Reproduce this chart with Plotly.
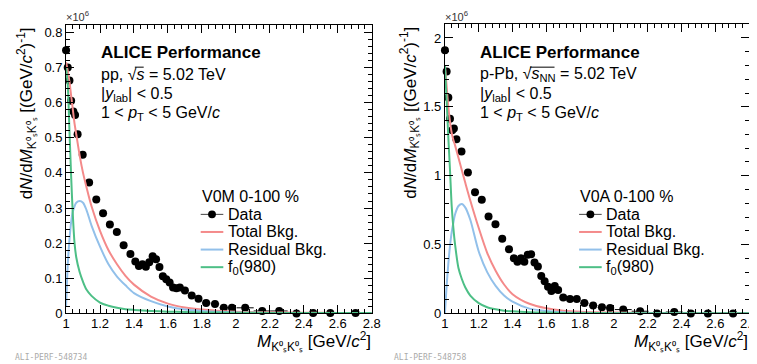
import plotly.graph_objects as go

# ---------------- data ----------------
mass_bins = [1.0, 1.01, 1.02, 1.03, 1.043, 1.053, 1.068, 1.098, 1.136, 1.178, 1.218, 1.258,
             1.299, 1.339, 1.379, 1.408, 1.429, 1.45, 1.47, 1.49, 1.51, 1.53, 1.55, 1.57,
             1.59, 1.61, 1.63, 1.65, 1.67, 1.70, 1.74, 1.78, 1.825, 1.877, 1.929, 1.977,
             2.055, 2.155, 2.255, 2.357, 2.455, 2.556, 2.705]
bin_halfwidth = [0.005, 0.005, 0.005, 0.005, 0.0075, 0.0075, 0.01, 0.02, 0.02, 0.02, 0.02,
                 0.02, 0.02, 0.02, 0.02, 0.01, 0.01, 0.01, 0.01, 0.01, 0.01, 0.01, 0.01,
                 0.01, 0.01, 0.01, 0.01, 0.01, 0.01, 0.02, 0.02, 0.02, 0.025, 0.025, 0.025,
                 0.025, 0.05, 0.05, 0.05, 0.05, 0.05, 0.05, 0.1]

pp_data = [0.749, 0.70, 0.663, 0.605, 0.575, 0.565, 0.51, 0.452, 0.373, 0.324, 0.285, 0.253,
           0.232, 0.194, 0.169, 0.148, 0.135, 0.14, 0.133, 0.146, 0.163, 0.154, 0.132, 0.106,
           0.097, 0.088, 0.074, 0.072, 0.074, 0.065, 0.051, 0.042, 0.030, 0.027, 0.016, 0.016,
           0.016, 0.007, 0.007, 0.0, 0.001, 0.001, 0.001]
ppb_data = [1.91, 1.756, 1.567, 1.413, 1.33, 1.342, 1.264, 1.176, 1.023, 0.88, 0.826, 0.703,
            0.648, 0.542, 0.466, 0.40, 0.376, 0.40, 0.376, 0.426, 0.43, 0.37, 0.34, 0.272,
            0.234, 0.194, 0.163, 0.199, 0.17, 0.116, 0.104, 0.104, 0.075, 0.057, 0.045, 0.04,
            0.028, 0.016, 0.0, 0.01, 0.0, 0.0, 0.0]

curve_mass = [1.0, 1.01, 1.02, 1.03, 1.04, 1.05, 1.06, 1.08, 1.1, 1.12, 1.15, 1.2, 1.25, 1.3,
              1.35, 1.4, 1.5, 1.6, 1.7, 1.8, 2.0, 2.2, 2.4, 2.6, 2.8]

pp_total = [0.715, 0.69, 0.66, 0.62, 0.58, 0.54, 0.51, 0.45, 0.40, 0.36, 0.305, 0.235, 0.18,
            0.14, 0.107, 0.082, 0.048, 0.028, 0.017, 0.011, 0.005, 0.003, 0.002, 0.0015, 0.001]
pp_resid = [0.02, 0.14, 0.21, 0.26, 0.29, 0.305, 0.315, 0.32, 0.315, 0.295, 0.25, 0.19, 0.14,
            0.105, 0.08, 0.058, 0.035, 0.02, 0.011, 0.007, 0.003, 0.0015, 0.001, 0.0005, 0.0003]
pp_f0 = [0.70, 0.65, 0.52, 0.39, 0.28, 0.20, 0.16, 0.118, 0.09, 0.068, 0.05, 0.031, 0.022,
         0.016, 0.012, 0.010, 0.007, 0.005, 0.004, 0.003, 0.002, 0.0015, 0.001, 0.001, 0.001]

ppb_total = [1.80, 1.65, 1.5, 1.39, 1.31, 1.26, 1.22, 1.13, 1.04, 0.95, 0.82, 0.62, 0.44, 0.31,
             0.21, 0.14, 0.07, 0.037, 0.02, 0.012, 0.006, 0.003, 0.002, 0.0015, 0.001]
ppb_resid = [0.0, 0.2, 0.36, 0.49, 0.59, 0.66, 0.72, 0.78, 0.795, 0.77, 0.68, 0.45, 0.30, 0.2,
             0.13, 0.085, 0.035, 0.018, 0.009, 0.005, 0.002, 0.001, 0.0005, 0.0003, 0.0002]
ppb_f0 = [1.80, 1.55, 1.28, 1.04, 0.78, 0.62, 0.50, 0.33, 0.25, 0.19, 0.13, 0.075, 0.045, 0.03,
          0.02, 0.015, 0.009, 0.006, 0.004, 0.003, 0.002, 0.0015, 0.001, 0.001, 0.001]

series_names = ["Data", "Total Bkg.", "Residual Bkg.", "f<sub>0</sub>(980)"]
legend_titles = ["V0M 0-100 %", "V0A 0-100 %"]
x_ticks = [1, 1.2, 1.4, 1.6, 1.8, 2, 2.2, 2.4, 2.6, 2.8]

# ---------------- style ----------------
W, H = 757, 364
FONT = "Liberation Sans, Arial, Helvetica, sans-serif"
RED, BLUE, GREEN = "#f48a8a", "#92c0ea", "#4dbf86"


def px(x):
    return x / W


def py(y):
    return 1 - y / H


fig = go.Figure()

panels = [
    dict(data=pp_data, total=pp_total, resid=pp_resid, f0=pp_f0, xa="x", ya="y",
         x0=55, x1=366, ytop=17, ymax=0.822, dtick=0.1, minor=0.02,
         ytitle_x=15, leg_x=192, leg_txt=220, bar=(125, 134)),
    dict(data=ppb_data, total=ppb_total, resid=ppb_resid, f0=ppb_f0, xa="x2", ya="y2",
         x0=440.5, x1=750, ytop=16, ymax=2.104, dtick=0.5, minor=0.1,
         ytitle_x=405, leg_x=577, leg_txt=604, bar=(527, 552)),
]

for p in panels:
    fig.add_trace(go.Scatter(
        x=mass_bins, y=p["data"], mode="markers", name=series_names[0],
        marker=dict(color="black", size=8),
        error_x=dict(type="data", array=bin_halfwidth, color="black", thickness=1, width=0),
        xaxis=p["xa"], yaxis=p["ya"], cliponaxis=False, showlegend=False))
    for vals, col, nm in [(p["total"], RED, series_names[1]),
                          (p["resid"], BLUE, series_names[2]),
                          (p["f0"], GREEN, series_names[3])]:
        fig.add_trace(go.Scatter(
            x=curve_mass, y=vals, mode="lines", name=nm,
            line=dict(color=col, width=2, shape="spline", smoothing=0.8),
            xaxis=p["xa"], yaxis=p["ya"], showlegend=False))

axis_common = dict(showline=True, linecolor="black", linewidth=1, mirror="allticks",
                   ticks="inside", ticklen=8, tickwidth=1, tickcolor="black",
                   showgrid=False, zeroline=False,
                   tickfont=dict(family=FONT, size=13, color="black"))

layout = dict(
    width=W, height=H, margin=dict(l=0, r=0, t=0, b=0),
    paper_bgcolor="white", plot_bgcolor="white", showlegend=False,
    font=dict(family=FONT, color="black"),
)

for i, p in enumerate(panels):
    sfx = "" if i == 0 else "2"
    layout["xaxis" + sfx] = dict(
        axis_common, domain=[px(p["x0"]), px(p["x1"])], range=[1, 2.8],
        tickvals=x_ticks, anchor="y" + sfx, ticklabelstandoff=-2,
        minor=dict(dtick=0.04, tick0=1, ticks="inside", ticklen=4, tickcolor="black"))
    layout["yaxis" + sfx] = dict(
        axis_common, domain=[py(312.3), py(p["ytop"])], range=[0, p["ymax"]],
        dtick=p["dtick"], tick0=0, anchor="x" + sfx,
        minor=dict(dtick=p["minor"], tick0=0, ticks="inside", ticklen=4, tickcolor="black"))
fig.update_layout(**layout)

ytitle = "d<i>N</i>/d<i>M</i><sub>K⁰ₛK⁰ₛ</sub> [(GeV/<i>c</i><sup>2</sup>)<sup>-1</sup>]"
xtitle = "<i>M</i><sub>K⁰ₛK⁰ₛ</sub> [GeV/<i>c</i><sup>2</sup>]"
info = [
    ["pp, √<i>s</i> = 5.02 TeV", "|<i>y</i><sub>lab</sub>| &lt; 0.5",
     "1 &lt; <i>p</i><sub>T</sub> &lt; 5 GeV/<i>c</i>"],
    ["p-Pb, √<i>s</i><sub>NN</sub> = 5.02 TeV", "|<i>y</i><sub>lab</sub>| &lt; 0.5",
     "1 &lt; <i>p</i><sub>T</sub> &lt; 5 GeV/<i>c</i>"],
]
info_y = [68, 88, 108]
tags = ["ALI-PERF-548734", "ALI-PERF-548758"]
legend_y = [211, 229, 247, 265]
legend_cols = ["black", RED, BLUE, GREEN]


def ann(x, y, text, size=16, xanchor="left", yanchor="middle", **kw):
    fig.add_annotation(xref="paper", yref="paper", x=px(x), y=py(y), text=text,
                       showarrow=False, xanchor=xanchor, yanchor=yanchor,
                       font=dict(family=kw.pop("family", FONT), size=size,
                                 color=kw.pop("color", "black")), **kw)


for i, p in enumerate(panels):
    x0 = p["x0"]
    ann(p["ytitle_x"], p["ytop"] + 1, ytitle, size=17, xanchor="center", yanchor="top",
        textangle=-90)
    ann(p["x1"] + 1, 341, xtitle, size=17, xanchor="right")
    ann(x0 + 34, 45, "<b>ALICE Performance</b>", size=17)
    for t, yy in zip(info[i], info_y):
        ann(x0 + 34, yy, t, size=16)
    # overline of the square-root sign
    fig.add_shape(type="line", xref="paper", yref="paper",
                  x0=px(p["bar"][0]), x1=px(p["bar"][1]), y0=py(60.5), y1=py(60.5),
                  line=dict(color="black", width=1))
    ann(x0 - 2, 8, "×10<sup>6</sup>", size=11, color="#333")
    ann(x0 - 54, 357, tags[i], size=8, family="DejaVu Sans Mono", color="#aaaaaa")

    # legend block
    lx = p["leg_x"]
    ann(lx - 1, 193, legend_titles[i], size=16)
    for k, (nm, col, yy) in enumerate(zip(series_names, legend_cols, legend_y)):
        fig.add_shape(type="line", xref="paper", yref="paper",
                      x0=px(lx), x1=px(lx + 23), y0=py(yy), y1=py(yy),
                      line=dict(color="#444" if k == 0 else col, width=1 if k == 0 else 2))
        if k == 0:
            fig.add_shape(type="circle", xref="paper", yref="paper",
                          x0=px(lx + 7.5), x1=px(lx + 15.5), y0=py(yy + 4), y1=py(yy - 4),
                          fillcolor="black", line=dict(color="black", width=0))
        ann(p["leg_txt"] - 2, yy, nm, size=16)

fig.write_html("out.html")
